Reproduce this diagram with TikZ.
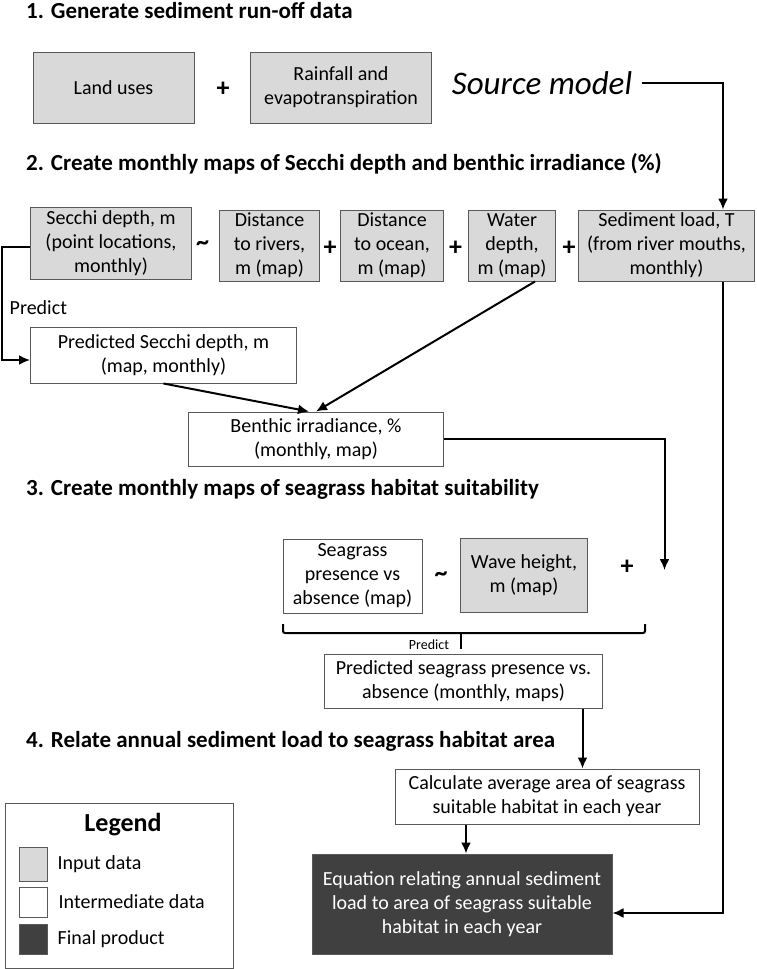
\documentclass[tikz,border=0pt]{standalone}
\usepackage{fontspec}
\setmainfont{Carlito}
\usepackage{tikz}
\usetikzlibrary{shapes,arrows,arrows.meta}
\usetikzlibrary{positioning}
\definecolor{inputgray}{HTML}{D9D9D9}
\definecolor{finalgray}{HTML}{404040}
\definecolor{edgegray}{HTML}{595959}
\tikzstyle{input} = [rectangle, draw=edgegray, line width=1pt, fill=inputgray,
    align=center, inner sep=0pt, font=\fontsize{20}{24}\selectfont]
\tikzstyle{inter} = [input, fill=white]
\tikzstyle{final} = [input, fill=finalgray, text=white]
\tikzstyle{stage} = [anchor=west, inner sep=0pt, font=\fontsize{23}{26}\selectfont\bfseries]
\tikzstyle{op} = [inner sep=0pt, font=\fontsize{26}{26}\selectfont\bfseries]
\tikzstyle{swatch} = [rectangle, draw=edgegray, line width=1pt, minimum width=28pt]
\tikzstyle{line} = [draw, line width=2pt, -{Latex[length=11pt,width=10pt]}]

\begin{document}
\begin{tikzpicture}[x=1pt,y=-1pt]
    \useasboundingbox (0,0) rectangle (756,969);
    % Headings
    \node[stage] (h1) at (26,11) {1. Generate sediment run-off data};
    \node[stage] (h2) at (26,164) {2. Create monthly maps of Secchi depth and benthic irradiance (\%)};
    \node[stage] (h3) at (26,489) {3. Create monthly maps of seagrass habitat suitability};
    \node[stage] (h4) at (26,741) {4. Relate annual sediment load to seagrass habitat area};
    % Place nodes
    \node[input, minimum width=161pt, minimum height=71pt] (landuse) at (113.5,87.5) {Land uses};
    \node[op] (p1) at (223,89) {+};
    \node[input, minimum width=181pt, minimum height=71pt] (rain) at (341,87.5) {Rainfall and\\evapotranspiration};
    \node[font=\fontsize{33}{33}\selectfont\itshape] (source) at (542,83) {Source model};

    \node[input, minimum width=161pt, minimum height=72pt] (secchi) at (111,243) {Secchi depth, m\\(point locations,\\monthly)};
    \node[op] (t1) at (202.5,246) {\textasciitilde};
    \node[input, minimum width=100pt, minimum height=71pt] (rivers) at (269.5,245.5) {Distance\\to rivers,\\m (map)};
    \node[op] (p2) at (330,248) {+};
    \node[input, minimum width=103pt, minimum height=71pt] (ocean) at (392,245.5) {Distance\\to ocean,\\m (map)};
    \node[op] (p3) at (455.5,248) {+};
    \node[input, minimum width=87pt, minimum height=71pt] (water) at (512,245.5) {Water\\depth,\\m (map)};
    \node[op] (p4) at (569,248) {+};
    \node[input, minimum width=176pt, minimum height=71pt] (sedload) at (666.5,245.5) {Sediment load, T\\(from river mouths,\\monthly)};

    \node[anchor=west, inner sep=0pt, font=\fontsize{20}{24}\selectfont] (predict1) at (9.5,308) {Predict};
    \node[inter, minimum width=266pt, minimum height=56pt] (predsecchi) at (163.5,355) {Predicted Secchi depth, m\\(map, monthly)};
    \node[inter, minimum width=255pt, minimum height=54pt] (benthic) at (316,439) {Benthic irradiance, \%\\(monthly, map)};

    \node[inter, minimum width=139pt, minimum height=74pt] (seapres) at (352.5,576) {Seagrass\\presence vs\\absence (map)};
    \node[op] (t2) at (441,577) {\textasciitilde};
    \node[input, minimum width=127pt, minimum height=74pt] (wave) at (524,575) {Wave height,\\m (map)};
    \node[op] (p5) at (627,567) {+};
    \coordinate (waveplus) at (664.5,570);

    \node[font=\fontsize{14}{14}\selectfont, inner sep=0pt] (predict2) at (429,645) {Predict};
    \node[inter, minimum width=278pt, minimum height=54pt] (predsea) at (463.5,681) {Predicted seagrass presence vs.\\absence (monthly, maps)};
    \node[inter, minimum width=304pt, minimum height=55pt] (calc) at (547,796.5) {Calculate average area of seagrass\\suitable habitat in each year};
    \node[final, minimum width=300pt, minimum height=100pt] (eqn) at (462,904) {Equation relating annual sediment\\load to area of seagrass suitable\\habitat in each year};

    % Legend
    \node[draw=edgegray, line width=1pt, minimum width=228pt, minimum height=165pt] (legend) at (119,885.5) {};
    \node[font=\fontsize{26}{26}\selectfont\bfseries, inner sep=0pt] (legtitle) at (123,825) {Legend};
    \node[swatch, fill=inputgray, minimum height=34pt] (sw1) at (33,864) {};
    \node[swatch, fill=white, minimum height=30pt] (sw2) at (33,902) {};
    \node[swatch, fill=finalgray, minimum height=30pt] (sw3) at (33,939) {};
    \node[right=10pt of sw1, inner sep=0pt, font=\fontsize{20}{24}\selectfont] (lab1) {Input data};
    \node[right=11pt of sw2, inner sep=0pt, font=\fontsize{20}{24}\selectfont] (lab2) {Intermediate data};
    \node[right=10pt of sw3, inner sep=0pt, font=\fontsize{20}{24}\selectfont] (lab3) {Final product};

    % Draw edges
    \path [line] ([xshift=6pt]source.east) -| ([xshift=56.5pt]sedload.north);
    \path [line] ([yshift=-4pt]secchi.west) -- ++(-28,0) |- ([yshift=-5pt]predsecchi.west);
    \path [line] (predsecchi.south) -- ([xshift=-7pt]benthic.north);
    \path [line] ([xshift=23pt]water.south) -- (benthic.north);
    \path [line] (benthic.east) -| (waveplus);
    \path [line] ([xshift=56.5pt]sedload.south) |- ([yshift=-9pt]eqn.east);
    \path [line] ([xshift=119pt]predsea.south) -- ([xshift=119pt]predsea.south |- calc.north);
    \path [line] ([xshift=-81pt]calc.south) -- ([xshift=-81pt]calc.south |- eqn.north);
    % Bracket under the model terms
    \draw [line width=2pt, rounded corners=2pt] (283,624) -- (283,633) -- (645,633) -- (645,624);
    \draw [line width=2pt] (460.5,633) -- (460.5,649);
\end{tikzpicture}
\end{document}
